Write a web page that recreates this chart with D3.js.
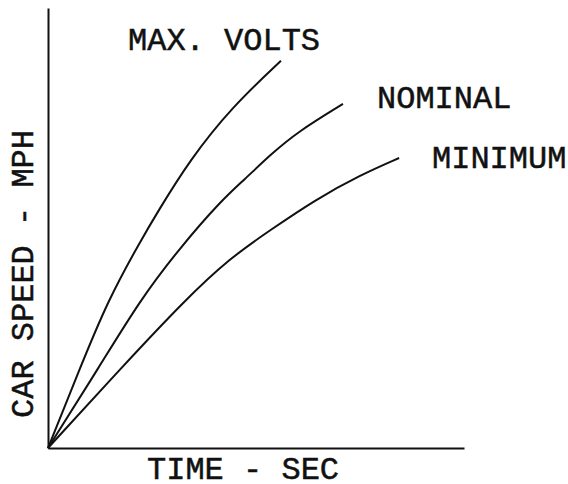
<!DOCTYPE html>
<html>
<head>
<meta charset="utf-8">
<script src="https://cdn.jsdelivr.net/npm/d3@7"></script>
<style>
  html, body { margin: 0; padding: 0; background: #fff; }
  svg { display: block; }
  text { font-family: "Liberation Mono", "Courier New", monospace; fill: #111; stroke: #111; stroke-width: 0.5; }
</style>
</head>
<body>
<svg id="chart" width="568" height="484"></svg>
<script>
// Speed-vs-time curves for three supply voltages (relative units, no tick marks)
const seriesNames = ["MAX. VOLTS", "NOMINAL", "MINIMUM"];
const timeMax = [0, 0.75, 1.44, 2.24, 2.62, 3.41, 4.42, 5.60];
const speedMax = [0, 17.7, 33.6, 47.3, 53.4, 65.5, 77.5, 88.0];
const timeNominal = [0, 1.23, 2.21, 3.17, 4.18, 4.71, 5.34, 5.99, 7.09];
const speedNominal = [0, 18.4, 33.6, 45.5, 56.4, 60.9, 66.6, 71.8, 78.2];
const timeMinimum = [0, 1.78, 3.29, 4.38, 5.34, 6.42, 7.50, 8.44];
const speedMinimum = [0, 18.4, 33.6, 43.2, 49.5, 56.4, 62.0, 65.9];
const xTitle = "TIME - SEC";
const yTitle = "CAR SPEED - MPH";

const series = [
  { name: seriesNames[0], t: timeMax, v: speedMax },
  { name: seriesNames[1], t: timeNominal, v: speedNominal },
  { name: seriesNames[2], t: timeMinimum, v: speedMinimum }
];

const svg = d3.select("#chart");
const x = d3.scaleLinear().domain([0, 10]).range([48, 464]);
const y = d3.scaleLinear().domain([0, 100]).range([448, 8]);

// Axes: plain lines with no ticks
const xAxis = d3.axisBottom(x).tickValues([]).tickSizeOuter(0);
const yAxis = d3.axisLeft(y).tickValues([]).tickSizeOuter(0);
svg.append("g").attr("transform", `translate(0,${y(0)})`).call(xAxis)
  .select(".domain").attr("stroke", "#111").attr("stroke-width", 2);
svg.append("g").attr("transform", `translate(${x(0)},0)`).call(yAxis)
  .select(".domain").attr("stroke", "#111").attr("stroke-width", 2);

// Smoothed hand-drawn style curves
const line = d3.line()
  .x(d => x(d[0]))
  .y(d => y(d[1]))
  .curve(d3.curveBasis);

svg.append("g").selectAll("path")
  .data(series)
  .join("path")
  .attr("d", s => line(s.t.map((t, i) => [t, s.v[i]])))
  .attr("fill", "none")
  .attr("stroke", "#111")
  .attr("stroke-width", 2);

// Curve labels
const labelPos = [[128, 50], [377, 108], [432, 168]];
svg.append("g").selectAll("text")
  .data(series)
  .join("text")
  .attr("x", (s, i) => labelPos[i][0])
  .attr("y", (s, i) => labelPos[i][1])
  .attr("font-size", 32)
  .text(s => s.name);

svg.append("text")
  .attr("x", 147).attr("y", 479)
  .attr("font-size", 32)
  .text(xTitle);

svg.append("text")
  .attr("transform", "translate(33,274) rotate(-90)")
  .attr("text-anchor", "middle")
  .attr("font-size", 32)
  .text(yTitle);
</script>
</body>
</html>
